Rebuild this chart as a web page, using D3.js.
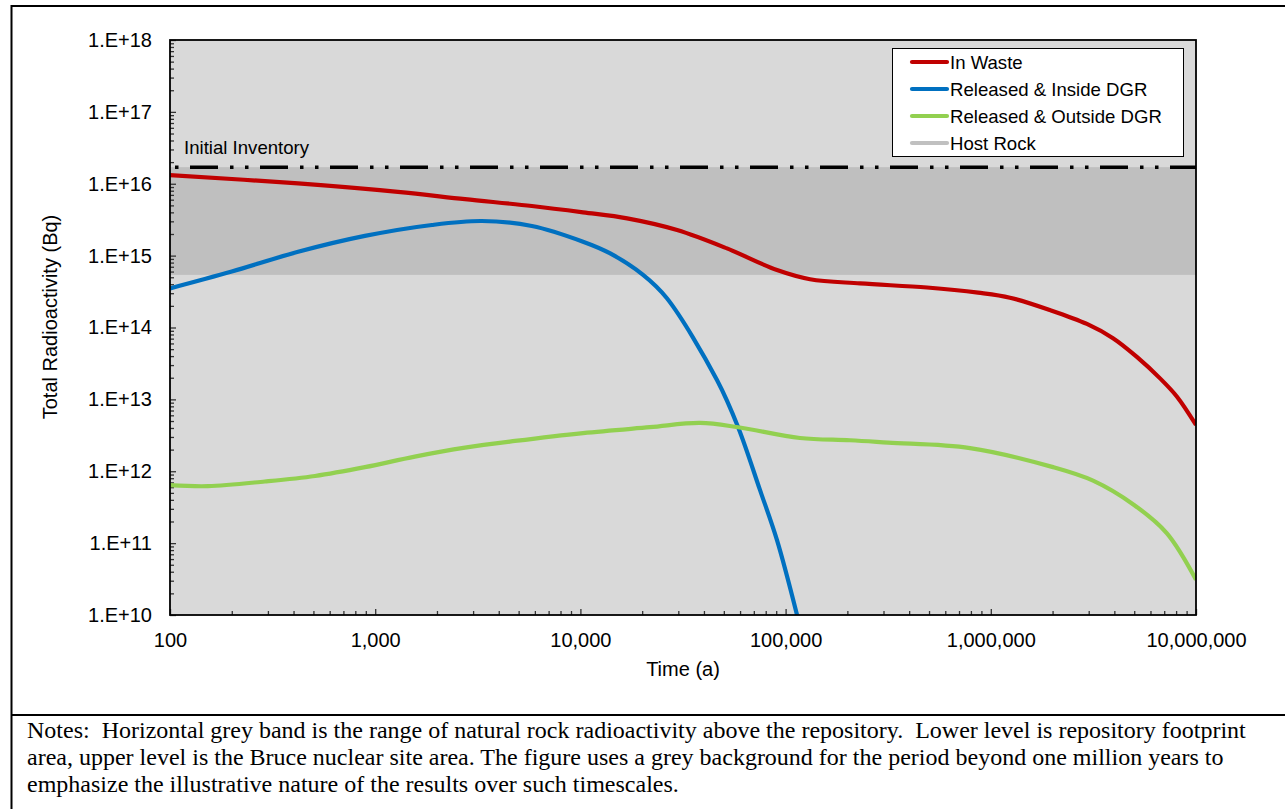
<!DOCTYPE html>
<html>
<head>
  <title>Total Radioactivity</title>
  <script src="https://d3js.org/d3.v7.min.js"></script>
</head>

<body style="margin:0px; overflow:hidden; background:#fff;">
  <div id="chart"></div>

  <script>
    // Series data
    const wasteT   = [100, 421, 1290, 2740, 5800, 10300, 16900, 29600, 51800, 90800, 131500, 230600, 489000, 867000, 1240000, 1940000, 2940000, 3940000, 5150000, 6680000, 8080000, 10000000];
    const wasteBq  = [1.32e16, 1.01e16, 7.7e15, 6.1e15, 4.9e15, 4.0e15, 3.3e15, 2.27e15, 1.26e15, 6.3e14, 4.7e14, 4.1e14, 3.6e14, 3.05e14, 2.6e14, 1.75e14, 1.12e14, 7.1e13, 3.9e13, 1.96e13, 1.09e13, 4.4e12];

    const insideT  = [100, 200, 421, 891, 1890, 3310, 5800, 10300, 13900, 20200, 26400, 46300, 58700, 75000, 90800, 113700];
    const insideBq = [3.5e14, 6.0e14, 1.13e15, 1.88e15, 2.67e15, 3.03e15, 2.58e15, 1.56e15, 1.08e15, 5.4e14, 2.55e14, 1.86e13, 4.1e12, 5.5e11, 1.1e11, 1.0e10];

    const outsideT  = [100, 153, 290, 509, 891, 1560, 2740, 4800, 10300, 21800, 38300, 58700, 117500, 206000, 316000, 792000, 1990000, 3150000, 4990000, 7200000, 10000000];
    const outsideBq = [6.4e11, 6.2e11, 7.2e11, 8.6e11, 1.14e12, 1.6e12, 2.13e12, 2.64e12, 3.4e12, 4.1e12, 4.7e12, 4.1e12, 2.9e12, 2.7e12, 2.5e12, 2.1e12, 1.15e12, 7.4e11, 3.4e11, 1.38e11, 3.1e10];

    const hostRockBq = [5.4e14, 1.7e16];
    const initialInventory = 1.7e16;

    // Axis ticks and labels
    const xTicks = [1e2, 1e3, 1e4, 1e5, 1e6, 1e7];
    const xTickLabels = ["100", "1,000", "10,000", "100,000", "1,000,000", "10,000,000"];
    const yTicks = [1e10, 1e11, 1e12, 1e13, 1e14, 1e15, 1e16, 1e17, 1e18];
    const yTickLabels = ["1.E+10", "1.E+11", "1.E+12", "1.E+13", "1.E+14", "1.E+15", "1.E+16", "1.E+17", "1.E+18"];

    const legendNames = ["In Waste", "Released & Inside DGR", "Released & Outside DGR", "Host Rock"];
    const legendColors = ["#c00000", "#0070c0", "#92d050", "#c0c0c0"];

    const notes = [
      "Notes:  Horizontal grey band is the range of natural rock radioactivity above the repository.  Lower level is repository footprint",
      "area, upper level is the Bruce nuclear site area. The figure uses a grey background for the period beyond one million years to",
      "emphasize the illustrative nature of the results over such timescales."
    ];

    // Dimensions
    const width = 1285, height = 809;
    const pLeft = 170, pRight = 1196, pTop = 40, pBottom = 615;
    const sans = "'Liberation Sans', Arial, sans-serif";

    const svg = d3.select("#chart").append("svg")
      .attr("width", width)
      .attr("height", height)
      .style("display", "block");

    const x = d3.scaleLog().domain([1e2, 1e7]).range([pLeft, pRight]);
    const y = d3.scaleLog().domain([1e10, 1e18]).range([pBottom, pTop]);

    // Plot background + host rock band
    svg.append("rect")
      .attr("x", pLeft).attr("y", pTop)
      .attr("width", pRight - pLeft).attr("height", pBottom - pTop)
      .attr("fill", "#d9d9d9");

    svg.append("rect")
      .attr("x", pLeft).attr("y", y(hostRockBq[1]))
      .attr("width", pRight - pLeft)
      .attr("height", y(hostRockBq[0]) - y(hostRockBq[1]))
      .attr("fill", "#bfbfbf");

    // Initial inventory
    svg.append("line")
      .attr("x1", pLeft).attr("x2", pRight)
      .attr("y1", y(initialInventory)).attr("y2", y(initialInventory))
      .attr("stroke", "#000")
      .attr("stroke-width", 3.5)
      .attr("stroke-dasharray", "28,12,3.5,11.5,3.5,11.5")
      .attr("stroke-dashoffset", 50);

    svg.append("text")
      .attr("x", 184).attr("y", 154)
      .style("font-family", sans).style("font-size", "18.6px")
      .attr("fill", "#000")
      .text("Initial Inventory");

    // Axes (ticks inward)
    const minorX = [], minorY = [];
    for (let e = 2; e < 7; e++) for (let k = 2; k < 10; k++) minorX.push(k * Math.pow(10, e));
    for (let e = 10; e < 18; e++) for (let k = 2; k < 10; k++) minorY.push(k * Math.pow(10, e));

    svg.append("g")
      .attr("transform", "translate(0," + pBottom + ")")
      .call(d3.axisBottom(x).tickValues(xTicks).tickSize(-6).tickPadding(18)
        .tickFormat((d, i) => xTickLabels[i]));
    svg.append("g")
      .attr("transform", "translate(0," + pBottom + ")")
      .call(d3.axisBottom(x).tickValues(minorX).tickSize(-4).tickFormat(""));

    svg.append("g")
      .attr("transform", "translate(" + pLeft + ",0)")
      .call(d3.axisLeft(y).tickValues(yTicks).tickSize(-6).tickPadding(18)
        .tickFormat((d, i) => yTickLabels[i]));
    svg.append("g")
      .attr("transform", "translate(" + pLeft + ",0)")
      .call(d3.axisLeft(y).tickValues(minorY).tickSize(-4).tickFormat(""));

    svg.selectAll(".domain").remove();
    svg.selectAll(".tick line").attr("stroke", "#333").attr("stroke-width", 1.3);
    svg.selectAll(".tick text")
      .style("font-family", sans).style("font-size", "20px").attr("fill", "#000");

    // Series lines
    svg.append("clipPath").attr("id", "plotClip")
      .append("rect")
      .attr("x", pLeft).attr("y", pTop)
      .attr("width", pRight - pLeft).attr("height", pBottom - pTop);

    const line = d3.line()
      .x(d => x(d[0]))
      .y(d => y(d[1]))
      .curve(d3.curveCatmullRom.alpha(0.5));

    const series = [
      d3.zip(wasteT, wasteBq),
      d3.zip(insideT, insideBq),
      d3.zip(outsideT, outsideBq)
    ];

    svg.append("g")
      .attr("clip-path", "url(#plotClip)")
      .selectAll("path")
      .data(series).enter()
      .append("path")
      .attr("d", line)
      .attr("fill", "none")
      .attr("stroke", (d, i) => legendColors[i])
      .attr("stroke-width", 4.2)
      .attr("stroke-linejoin", "round");

    // Plot frame
    svg.append("rect")
      .attr("x", pLeft).attr("y", pTop)
      .attr("width", pRight - pLeft).attr("height", pBottom - pTop)
      .attr("fill", "none")
      .attr("stroke", "#000")
      .attr("stroke-width", 1.8);

    // Axis titles
    svg.append("text")
      .attr("x", (pLeft + pRight) / 2).attr("y", 676)
      .attr("text-anchor", "middle")
      .style("font-family", sans).style("font-size", "20px")
      .text("Time (a)");

    svg.append("text")
      .attr("transform", "translate(57,317) rotate(-90)")
      .attr("text-anchor", "middle")
      .style("font-family", sans).style("font-size", "20px")
      .text("Total Radioactivity (Bq)");

    // Legend
    const legend = svg.append("g");
    legend.append("rect")
      .attr("x", 892.5).attr("y", 48.5)
      .attr("width", 291).attr("height", 108)
      .attr("fill", "#fff")
      .attr("stroke", "#000")
      .attr("stroke-width", 1);

    const rows = legend.selectAll("g.row")
      .data(legendNames).enter()
      .append("g")
      .attr("transform", (d, i) => "translate(0," + (62 + i * 27) + ")");
    rows.append("line")
      .attr("x1", 912).attr("x2", 947)
      .attr("stroke", (d, i) => legendColors[i])
      .attr("stroke-width", 4.2)
      .attr("stroke-linecap", "round");
    rows.append("text")
      .attr("x", 950).attr("dy", "0.35em")
      .style("font-family", sans).style("font-size", "18.6px")
      .text(d => d);

    // Outer frame and notes
    svg.append("path")
      .attr("d", "M11.5,809V6H1285")
      .attr("fill", "none")
      .attr("stroke", "#000")
      .attr("stroke-width", 2);
    svg.append("line")
      .attr("x1", 11.5).attr("x2", 1285)
      .attr("y1", 715).attr("y2", 715)
      .attr("stroke", "#000")
      .attr("stroke-width", 2);

    svg.append("g")
      .selectAll("text")
      .data(notes).enter()
      .append("text")
      .attr("x", 27)
      .attr("y", (d, i) => 738 + i * 27)
      .attr("xml:space", "preserve")
      .style("white-space", "pre")
      .style("font-family", "'Liberation Serif', 'Times New Roman', serif")
      .style("font-size", "24px")
      .text(d => d);
  </script>
</body>
</html>
